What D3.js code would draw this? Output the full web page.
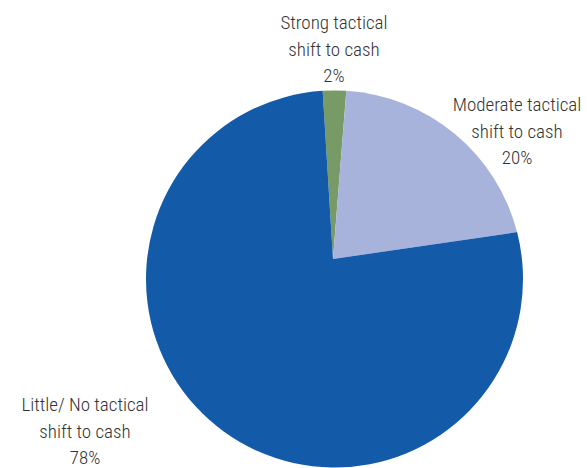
<!DOCTYPE html>
<html>
<head>
<meta charset="utf-8">
<script src="https://cdn.jsdelivr.net/npm/d3@7"></script>
<style>
  html, body { margin: 0; padding: 0; background: #fff; }
  svg { display: block; }
  .lbl { font-family: "Roboto Condensed", "Liberation Sans Narrow", "DejaVu Sans Condensed", Roboto, sans-serif; font-weight: 300; font-size: 19px; fill: #333; }
</style>
</head>
<body>
<svg id="chart" width="587" height="468"></svg>
<script>
// Share of respondents by expected tactical shift to cash
const categories = ["Strong tactical shift to cash", "Moderate tactical shift to cash", "Little/ No tactical shift to cash"];
const labelLines = [["Strong tactical", "shift to cash"], ["Moderate tactical", "shift to cash"], ["Little/ No tactical", "shift to cash"]];
const values = [2, 20, 78];
const colors = ["#789a66", "#a7b3db", "#135ba9"];

const W = 587, H = 468;
const cx = 334.5, cy = 279, R = 188.5;   // outer circle
const hub = { x: 333, y: 259 };           // point where the wedges meet
const start = -3.6 * Math.PI / 180;

const svg = d3.select("#chart");

const pie = d3.pie().sort(null).value(d => d).startAngle(start).endAngle(start + 2 * Math.PI);
const arcs = pie(values);

// wedge: from the hub out to the rim, along the rim, and back
function wedge(a) {
  const p = d3.path();
  p.moveTo(hub.x, hub.y);
  p.arc(cx, cy, R, a.startAngle - Math.PI / 2, a.endAngle - Math.PI / 2);
  p.closePath();
  return p.toString();
}

svg.append("g").selectAll("path")
  .data(arcs)
  .join("path")
  .attr("d", wedge)
  .attr("fill", (d, i) => colors[i]);

// labels
const labelPos = [
  { x: 334, y: 29 },
  { x: 517, y: 111 },
  { x: 85, y: 411 }
];
const lineH = 26.5;

const lg = svg.append("g");
arcs.forEach((a, i) => {
  const t = lg.append("text")
    .attr("class", "lbl")
    .attr("text-anchor", "middle")
    .attr("x", labelPos[i].x)
    .attr("y", labelPos[i].y);
  const lines = labelLines[i].concat([values[i] + "%"]);
  lines.forEach((s, j) => {
    t.append("tspan")
      .attr("x", labelPos[i].x)
      .attr("dy", j === 0 ? 0 : lineH)
      .text(s);
  });
});
</script>
</body>
</html>
